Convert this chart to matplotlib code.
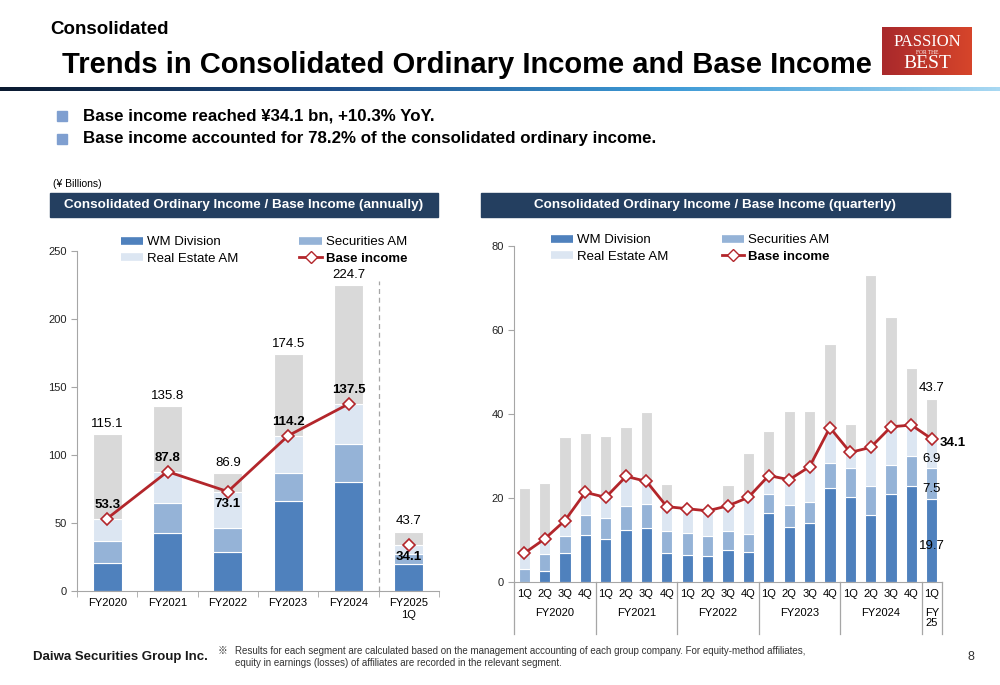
import numpy as np
import matplotlib.pyplot as plt
from matplotlib.lines import Line2D
from matplotlib.patches import Rectangle
from matplotlib.colors import LinearSegmentedColormap
import matplotlib.transforms as mtransforms

plt.rcParams['font.family'] = ['Liberation Sans', 'DejaVu Sans', 'Noto Sans CJK JP']

# ---- annual data (¥ billions) ----
years = ['FY2020', 'FY2021', 'FY2022', 'FY2023', 'FY2024', 'FY2025\n1Q']
wm_year = [20.9, 42.9, 28.7, 66.0, 80.5, 19.7]
sec_year = [15.7, 21.9, 17.9, 20.9, 27.9, 7.5]
re_year = [16.7, 23.0, 26.5, 27.3, 29.1, 6.9]
base_year = [53.3, 87.8, 73.1, 114.2, 137.5, 34.1]
total_year = [115.1, 135.8, 86.9, 174.5, 224.7, 43.7]

# ---- quarterly data (¥ billions) ----
quarters = ['1Q', '2Q', '3Q', '4Q'] * 5 + ['1Q']
fy_groups = ['FY2020', 'FY2021', 'FY2022', 'FY2023', 'FY2024', 'FY\n25']
wm_q = [-0.5, 2.8, 6.9, 11.3, 10.2, 12.5, 12.8, 6.9, 6.6, 6.3, 7.7, 7.3,
        16.6, 13.1, 14.0, 22.4, 20.4, 15.9, 20.9, 23.0, 19.7]
sec_q = [3.1, 3.9, 4.2, 4.6, 5.2, 5.7, 5.8, 5.2, 5.2, 4.8, 4.4, 4.2,
         4.3, 5.2, 5.2, 5.9, 6.7, 7.1, 7.0, 7.1, 7.5]
re_q = [4.3, 3.6, 3.6, 5.5, 4.8, 7.0, 5.4, 5.9, 5.7, 5.9, 6.1, 8.7,
        4.5, 6.1, 8.3, 8.5, 3.8, 9.1, 9.1, 7.3, 6.9]
base_q = [6.9, 10.3, 14.7, 21.4, 20.2, 25.2, 24.0, 18.0, 17.5, 17.0, 18.2, 20.2,
          25.4, 24.4, 27.5, 36.8, 30.9, 32.1, 37.0, 37.4, 34.1]
total_q = [22.0, 23.7, 34.5, 35.4, 34.9, 37.0, 40.5, 23.3, 17.5, 15.2, 23.2, 30.8,
           36.1, 40.8, 40.8, 56.7, 37.7, 73.0, 63.0, 51.0, 43.7]

c_wm = '#4f81bd'
c_sec = '#95b3d7'
c_re = '#dce6f2'
c_other = '#d9d9d9'
c_base = '#b3262b'
c_axis = '#a6a6a6'
c_navy = '#243f60'

W, H = 1000, 685


def fx(x):
    return x / W


def fy(y):
    return 1 - y / H


def stack_bars(ax, x, segs, colors, width):
    pos = np.zeros(len(x))
    neg = np.zeros(len(x))
    for vals, c in zip(segs, colors):
        vals = np.array(vals, dtype=float)
        bottom = np.where(vals >= 0, pos, neg)
        ax.bar(x, vals, bottom=bottom, width=width, color=c,
               edgecolor='white', linewidth=0.8, zorder=2)
        pos = pos + np.clip(vals, 0, None)
        neg = neg + np.clip(vals, None, 0)


def style_axis(ax):
    for s in ['top', 'right']:
        ax.spines[s].set_visible(False)
    ax.spines['left'].set_color(c_axis)
    ax.spines['bottom'].set_color(c_axis)
    ax.tick_params(axis='y', colors=c_axis, labelcolor='#222222', labelsize=8, length=4)


def add_legend(ax, x0, y0, colspace):
    handles = [Line2D([], [], color=c_wm, lw=5.5, solid_capstyle='butt'),
               Line2D([], [], color=c_re, lw=5.5, solid_capstyle='butt'),
               Line2D([], [], color=c_sec, lw=5.5, solid_capstyle='butt'),
               Line2D([], [], color=c_base, lw=2, marker='D', markersize=6,
                      markerfacecolor='white', markeredgecolor=c_base)]
    labels = ['WM Division', 'Real Estate AM', 'Securities AM', 'Base income']
    leg = ax.legend(handles, labels, ncol=2, loc='upper left',
                    bbox_to_anchor=(fx(x0), fy(y0)), bbox_transform=fig.transFigure,
                    frameon=False, fontsize=9.5, handlelength=1.7, handletextpad=0.3,
                    columnspacing=colspace, labelspacing=0.33, borderpad=0,
                    borderaxespad=0)
    leg.get_texts()[3].set_fontweight('bold')


fig = plt.figure(figsize=(10, 6.85), dpi=100)

# ---- header ----
fig.text(fx(50), fy(30), 'Consolidated', fontsize=13.5, fontweight='bold', va='center')
fig.text(fx(62), fy(65), 'Trends in Consolidated Ordinary Income and Base Income',
         fontsize=21, fontweight='bold', va='center')

# logo box with a soft red gradient
logo_cmap = LinearSegmentedColormap.from_list('logo', ['#a9292c', '#d6452a'])
ax_logo = fig.add_axes([fx(882), fy(75), fx(90), 48 / H])
ax_logo.imshow(np.linspace(0, 1, 64)[None, :], aspect='auto', cmap=logo_cmap)
ax_logo.axis('off')
fig.text(fx(927), fy(42), 'PASSION', fontsize=12, color='white', ha='center', va='center',
         family='Liberation Serif')
fig.text(fx(927), fy(52.5), 'FOR THE', fontsize=4, color='white', ha='center', va='center',
         family='Liberation Serif')
fig.text(fx(927), fy(63), 'BEST', fontsize=14, color='white', ha='center', va='center',
         family='Liberation Serif')

cmap = LinearSegmentedColormap.from_list('bar', ['#0b1a30', '#1f4f8a', '#3d9ad6', '#a8d8f2'])
ax_line = fig.add_axes([0, fy(91), 1, 4 / H])
ax_line.imshow(np.linspace(0, 1, 256)[None, :], aspect='auto', cmap=cmap)
ax_line.axis('off')

bullets = ['Base income reached ¥34.1 bn, +10.3% YoY.',
           'Base income accounted for 78.2% of the consolidated ordinary income.']
for i, b in enumerate(bullets):
    yy = 116 + i * 23
    fig.patches.append(Rectangle((fx(57), fy(yy + 5)), fx(10), 10 / H, color='#7f9fd0',
                                 transform=fig.transFigure))
    fig.text(fx(83), fy(yy), b, fontsize=12.2, fontweight='bold', va='center')

fig.text(fx(53), fy(184), '(¥ Billions)', fontsize=7.5, va='center')

fig.patches.append(Rectangle((fx(50), fy(217)), fx(388), 24 / H, color=c_navy,
                             transform=fig.transFigure))
fig.text(fx(244), fy(205), 'Consolidated Ordinary Income / Base Income (annually)',
         fontsize=9.7, fontweight='bold', color='white', ha='center', va='center')
fig.patches.append(Rectangle((fx(481), fy(217)), fx(469), 24 / H, color=c_navy,
                             transform=fig.transFigure))
fig.text(fx(715), fy(205), 'Consolidated Ordinary Income / Base Income (quarterly)',
         fontsize=9.7, fontweight='bold', color='white', ha='center', va='center')

# ---- annual chart ----
ax1 = fig.add_axes([fx(77), fy(591), fx(362), 340 / H])
x1 = np.arange(len(years))
other_year = [t - b for t, b in zip(total_year, base_year)]
stack_bars(ax1, x1, [wm_year, sec_year, re_year, other_year],
           [c_wm, c_sec, c_re, c_other], 0.48)
ax1.plot(x1[:5], base_year[:5], color=c_base, lw=2, marker='D', markersize=6,
         markerfacecolor='white', markeredgecolor=c_base, markeredgewidth=1.2, zorder=4)
ax1.plot(x1[5:], base_year[5:], color=c_base, lw=0, marker='D', markersize=6,
         markerfacecolor='white', markeredgecolor=c_base, markeredgewidth=1.2, zorder=4)
ax1.axvline(4.5, ymax=228 / 250, color=c_axis, lw=0.9, ls=(0, (4, 3)), zorder=1)

for i, t in enumerate(total_year):
    ax1.annotate(f'{t:.1f}', (i, t), xytext=(0, 3), textcoords='offset points',
                 ha='center', va='bottom', fontsize=9.5)
base_offsets = [10, 10, -9, 10, 10, -9]
for i, b in enumerate(base_year):
    ax1.annotate(f'{b:.1f}', (i, b), xytext=(0, base_offsets[i]), textcoords='offset points',
                 ha='center', va='center', fontsize=9.5, fontweight='bold', zorder=5)

ax1.set_xlim(-0.5, 5.5)
ax1.set_ylim(0, 250)
ax1.set_yticks([0, 50, 100, 150, 200, 250])
ax1.set_xticks(x1, years)
ax1.set_xticks(np.arange(-0.5, 6), minor=True)
ax1.tick_params(axis='x', which='major', length=0, pad=5, labelsize=8)
ax1.tick_params(axis='x', which='minor', length=4, color=c_axis)
style_axis(ax1)
add_legend(ax1, 121, 236, 4.6)

# ---- quarterly chart ----
ax2 = fig.add_axes([fx(514), fy(582.3), fx(428), 336.3 / H])
x2 = np.arange(len(quarters))
other_q = [t - b for t, b in zip(total_q, base_q)]
stack_bars(ax2, x2, [wm_q, sec_q, re_q, other_q], [c_wm, c_sec, c_re, c_other], 0.55)
ax2.plot(x2, base_q, color=c_base, lw=2, marker='D', markersize=6,
         markerfacecolor='white', markeredgecolor=c_base, markeredgewidth=1.2, zorder=4)

last = len(quarters) - 1
ax2.annotate(f'{total_q[last]:.1f}', (last, total_q[last]), xytext=(0, 3),
             textcoords='offset points', ha='center', va='bottom', fontsize=9.5)
ax2.annotate(f'{base_q[last]:.1f}', (last, base_q[last]), xytext=(6, -3),
             textcoords='offset points', ha='left', va='center', fontsize=9.5,
             fontweight='bold')
seg_mid = [wm_q[last] / 2, wm_q[last] + sec_q[last] / 2,
           wm_q[last] + sec_q[last] + re_q[last] / 2]
for v, m in zip([wm_q[last], sec_q[last], re_q[last]], seg_mid):
    ax2.annotate(f'{v:.1f}', (last, m), xytext=(0, -4), textcoords='offset points',
                 ha='center', va='center', fontsize=9.5, zorder=5)

ax2.set_xlim(-0.5, 20.5)
ax2.set_ylim(0, 80)
ax2.set_yticks([0, 20, 40, 60, 80])
ax2.set_xticks(x2, quarters)
ax2.tick_params(axis='x', length=0, pad=5, labelsize=8)
style_axis(ax2)
ax2.spines['bottom'].set_zorder(3)

trans = mtransforms.blended_transform_factory(ax2.transData, ax2.transAxes)
for xb in [-0.5, 3.5, 7.5, 11.5, 15.5, 19.5, 20.5]:
    ax2.add_line(Line2D([xb, xb], [0, -0.155], transform=trans, color=c_axis,
                        lw=0.9, clip_on=False))
group_centers = [1.5, 5.5, 9.5, 13.5, 17.5, 20]
for g, c in zip(fy_groups, group_centers):
    ax2.text(c, -0.075, g, transform=trans, ha='center', va='top', fontsize=8,
             linespacing=1.1)
add_legend(ax2, 551, 234, 4.0)

# ---- footer ----
fig.text(fx(33), fy(657), 'Daiwa Securities Group Inc.', fontsize=9.5, fontweight='bold',
         va='center', color='#1a1a1a')
fig.text(fx(218), fy(651), '※', fontsize=7, va='center', color='#333333',
         family=['Noto Sans CJK JP', 'DejaVu Sans'])
fig.text(fx(235), fy(651), 'Results for each segment are calculated based on the management '
         'accounting of each group company. For equity-method affiliates,',
         fontsize=7, va='center', color='#333333')
fig.text(fx(235), fy(663), 'equity in earnings (losses) of affiliates are recorded in the '
         'relevant segment.', fontsize=7, va='center', color='#333333')
fig.text(fx(968), fy(657), '8', fontsize=9, va='center', color='#333333')

plt.savefig('out.png')
